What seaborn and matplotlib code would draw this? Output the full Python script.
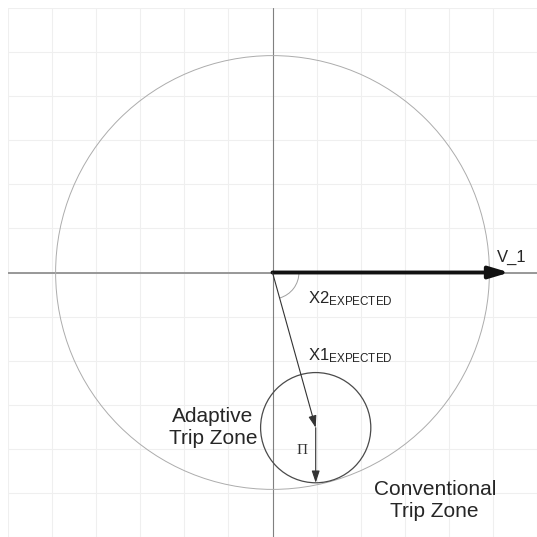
import matplotlib
matplotlib.use("Agg")
import matplotlib.pyplot as plt
import seaborn as sns
from matplotlib.patches import Circle, Arc

# geometry (grid units)
grid_ticks = list(range(-6, 7))
big_radius = 4.92
zone_center = [0.98, -3.52]
zone_radius = 1.25
v1_tip = [5.37, 0.0]
x1_tip = [0.98, -3.52]
pi_tip = [0.98, -4.77]
angle_arc = [-74, 0]

# label texts and positions
label_text = ["V_1", r"$\mathregular{X2_{EXPECTED}}$", r"$\mathregular{X1_{EXPECTED}}$",
              "Adaptive\nTrip Zone", "Conventional\nTrip Zone"]
label_x = [5.1, 0.81, 0.81, -1.35, 3.68]
label_y = [0.25, -0.70, -2.0, -3.52, -5.17]

sns.set_theme(style="whitegrid", rc={"grid.color": "#efefef", "grid.linewidth": 0.8})
plt.rcParams["font.family"] = ["Liberation Sans", "DejaVu Sans"]

fig = plt.figure(figsize=(5.37, 5.37), dpi=100)
ax = fig.add_axes([8 / 537, 0, 529 / 537, 529 / 537])
ax.set_xlim(-6.0, 5.94)
ax.set_ylim(-6.0, 5.94)
ax.set_xticks(grid_ticks)
ax.set_yticks(grid_ticks)
ax.set_xticklabels([])
ax.set_yticklabels([])
ax.tick_params(length=0)
for s in ax.spines.values():
    s.set_visible(False)

# axis cross
ax.axhline(0, color="#909090", lw=1.3, zorder=1)
ax.axvline(0, color="#808080", lw=0.8, zorder=1)

# conventional zone and adaptive zone
ax.add_patch(Circle((0, 0), big_radius, fill=False, ec="#acacac", lw=0.7, zorder=2))
ax.add_patch(Circle(zone_center, zone_radius, fill=False, ec="#4a4a4a", lw=0.9, zorder=2))
ax.add_patch(Arc((0, 0), 1.2, 1.2, theta1=angle_arc[0], theta2=angle_arc[1],
                 color="#a0a0a0", lw=0.7, zorder=2))

# vectors
ax.annotate("", xy=v1_tip, xytext=(0, 0),
            arrowprops=dict(arrowstyle="-|>,head_length=0.6,head_width=0.18",
                            mutation_scale=20, lw=2.8, color="#111111",
                            shrinkA=0, shrinkB=0), zorder=4)
ax.annotate("", xy=x1_tip, xytext=(0, 0),
            arrowprops=dict(arrowstyle="-|>,head_length=0.45,head_width=0.15",
                            mutation_scale=16, lw=0.8, color="#333333",
                            shrinkA=0, shrinkB=0), zorder=4)
ax.annotate("", xy=pi_tip, xytext=x1_tip,
            arrowprops=dict(arrowstyle="-|>,head_length=0.45,head_width=0.15",
                            mutation_scale=16, lw=0.8, color="#333333",
                            shrinkA=0, shrinkB=0), zorder=4)

# labels
for i in range(3):
    ax.text(label_x[i], label_y[i], label_text[i], fontsize=12, color="#262626",
            ha="left", va="baseline")
for i in range(3, 5):
    ax.text(label_x[i], label_y[i], label_text[i], fontsize=15, color="#262626",
            ha="center", va="center", multialignment="center")
ax.text(0.68, -4.04, "Π", fontsize=11, color="#333333",
        family=["Liberation Serif", "DejaVu Serif"], ha="center", va="center")

fig.savefig("out.png", dpi=100)
